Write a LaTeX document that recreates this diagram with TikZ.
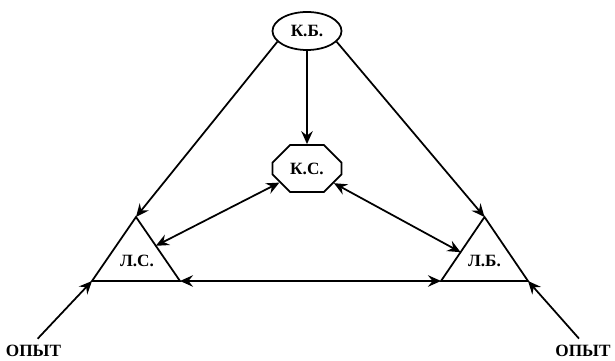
\documentclass[tikz,border=0pt]{standalone}
\usepackage{fontspec}
\setmainfont{Liberation Serif}
\usetikzlibrary{arrows.meta,shapes.geometric,shapes.misc,calc}

\tikzset{
	arr/.style={line width=1pt,-{Stealth[length=2.6mm,width=2.3mm,inset=0.9mm]}},
	dblarr/.style={line width=1pt,{Stealth[length=2.6mm,width=2.3mm,inset=0.9mm]}-{Stealth[length=2.6mm,width=2.3mm,inset=0.9mm]}},
	lbl/.style={font=\fontsize{9.8}{11}\selectfont\bfseries, inner sep=1pt},
}

\begin{document}
\begin{tikzpicture}
		\useasboundingbox (0,0) rectangle (12.3,7.22);

		%top and middle boxes
		\node[lbl, draw, line width=1pt, ellipse, minimum width=1.38cm, minimum height=0.76cm] (kb) at (6.14,6.6) {К.Б.};
		\node[lbl, draw, line width=1pt, chamfered rectangle, chamfered rectangle xsep=0.2cm, chamfered rectangle ysep=0.2cm, minimum width=1.38cm, minimum height=0.94cm] (ks) at (6.14,3.85) {К.С.};

		%corners of the small triangles
		\coordinate (lsL) at (1.84,1.6);
		\coordinate (lsT) at (2.72,2.88);
		\coordinate (lsR) at (3.6,1.6);
		\coordinate (lbL) at (8.82,1.6);
		\coordinate (lbT) at (9.69,2.88);
		\coordinate (lbR) at (10.56,1.6);

		\draw[line width=1pt] (lsL) -- (lsT) -- (lsR) -- cycle;
		\draw[line width=1pt] (lbL) -- (lbT) -- (lbR) -- cycle;

		%labels
		\node[lbl] (ls) at (2.74,2.0) {Л.С.};
		\node[lbl] (lb) at (9.69,2.0) {Л.Б.};
		\node[lbl] (opyt1) at (0.67,0.2) {ОПЫТ};
		\node[lbl] (opyt2) at (11.66,0.2) {ОПЫТ};

		%arrows
		\draw[arr] (kb.200) -- (lsT);
		\draw[arr] (kb.-20) -- (lbT);
		\draw[arr] (kb) -- (ks);
		\draw[dblarr] (ks) -- ($(lsT)!0.45!(lsR)$);
		\draw[dblarr] (ks) -- ($(lbT)!0.55!(lbL)$);
		\draw[dblarr] (lsR) -- (lbL);
		\draw[arr, shorten <=0.12cm] (opyt1.north) -- (lsL);
		\draw[arr, shorten <=0.12cm] (opyt2.north) -- (lbR);
\end{tikzpicture}
\end{document}
